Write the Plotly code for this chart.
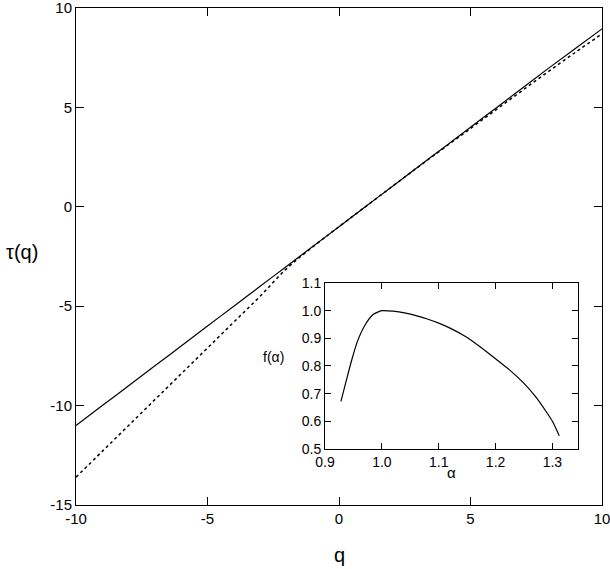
import plotly.graph_objects as go

# Main panel data: tau(q)
q = [-10, -9, -8, -7, -6, -5, -4, -3, -2, -1, 0, 1, 2, 3, 4, 5, 6, 7, 8, 9, 10]
tau_solid = [-11.0, -10.0, -9.0, -8.0, -7.0, -6.0, -5.0, -4.0, -3.0, -2.0, -1.0,
             0.0, 1.0, 2.0, 3.0, 4.0, 5.0, 6.0, 7.0, 7.98, 8.95]
tau_dotted = [-13.6, -12.3, -11.0, -9.7, -8.4, -7.1, -5.8, -4.5, -3.12, -2.02, -1.0,
              0.0, 1.0, 1.99, 2.97, 3.94, 4.91, 5.88, 6.84, 7.78, 8.7]

# Inset data: f(alpha)
alpha = [0.928, 0.939, 0.948, 0.957, 0.969, 0.984, 1.0, 1.02, 1.04, 1.06, 1.08,
         1.1, 1.12, 1.15, 1.175, 1.2, 1.225, 1.25, 1.27, 1.29, 1.3, 1.312]
f_alpha = [0.672, 0.76, 0.829, 0.889, 0.943, 0.985, 1.0, 0.998, 0.992, 0.982, 0.97,
           0.955, 0.937, 0.903, 0.866, 0.826, 0.785, 0.737, 0.69, 0.632, 0.6, 0.548]

main_xticks = [-10, -5, 0, 5, 10]
main_xticklabels = ["-10", "-5", "0", "5", "10"]
main_yticks = [-15, -10, -5, 0, 5, 10]
main_yticklabels = ["-15", "-10", "-5", "0", "5", "10"]
inset_xticks = [0.9, 1.0, 1.1, 1.2, 1.3]
inset_xticklabels = ["0.9", "1.0", "1.1", "1.2", "1.3"]
inset_yticks = [0.5, 0.6, 0.7, 0.8, 0.9, 1.0, 1.1]
inset_yticklabels = ["0.5", "0.6", "0.7", "0.8", "0.9", "1.0", "1.1"]

FONT = "Liberation Sans, Arial, sans-serif"

fig = go.Figure()
fig.add_trace(go.Scatter(x=q, y=tau_solid, mode="lines",
                         line=dict(color="black", width=1.2, shape="spline"),
                         xaxis="x", yaxis="y", showlegend=False))
fig.add_trace(go.Scatter(x=q, y=tau_dotted, mode="lines",
                         line=dict(color="black", width=1.5, dash="dot", shape="spline"),
                         xaxis="x", yaxis="y", showlegend=False))
fig.add_trace(go.Scatter(x=alpha, y=f_alpha, mode="lines",
                         line=dict(color="black", width=1.2, shape="spline", smoothing=0.6),
                         xaxis="x2", yaxis="y2", showlegend=False))


def axis(size, **kw):
    d = dict(showline=True, linecolor="black", linewidth=1, showgrid=False,
             zeroline=False, ticks="inside", tickcolor="black", automargin=False,
             ticklabeloverflow="allow", mirror="ticks",
             tickfont=dict(family=FONT, size=size, color="black"))
    d.update(kw)
    return d


fig.update_layout(
    width=610, height=569,
    margin=dict(l=76, r=8, t=8, b=64),
    paper_bgcolor="white", plot_bgcolor="white",
    hovermode=False,
    xaxis=axis(15, domain=[0, 1], range=[-10, 10], tickvals=main_xticks,
               ticktext=main_xticklabels, ticklen=8),
    yaxis=axis(15, domain=[0, 1], range=[-15, 10], tickvals=main_yticks,
               ticktext=main_yticklabels, ticklen=8),
    xaxis2=axis(14, domain=[0.4734, 0.9544], range=[0.9, 1.345], tickvals=inset_xticks,
                ticktext=inset_xticklabels, anchor="y2", ticklen=6),
    yaxis2=axis(14, domain=[0.1127, 0.4467], range=[0.5, 1.1], tickvals=inset_yticks,
                ticktext=inset_yticklabels, anchor="x2", ticklen=6),
    shapes=[dict(type="rect", xref="x2 domain", yref="y2 domain", x0=0, x1=1, y0=0, y1=1,
                 fillcolor="white", line=dict(width=0), layer="below")],
    annotations=[
        dict(text="q", xref="paper", yref="paper", x=0.5, y=-0.1, showarrow=False,
             font=dict(family=FONT, size=20, color="black"), xanchor="center", yanchor="middle"),
        dict(text="τ(q)", xref="paper", yref="paper", x=-0.103, y=0.51, showarrow=False,
             font=dict(family=FONT, size=20, color="black"), xanchor="center", yanchor="middle"),
        dict(text="f(α)", xref="paper", yref="paper", x=0.375, y=0.298, showarrow=False,
             font=dict(family=FONT, size=14, color="black"), xanchor="center", yanchor="middle"),
        dict(text="α", xref="paper", yref="paper", x=0.714, y=0.066, showarrow=False,
             font=dict(family=FONT, size=15, color="black"), xanchor="center", yanchor="middle"),
    ],
)

fig.write_html("out.html", config={"displayModeBar": False},
               post_script="document.body.style.margin='0px';")
